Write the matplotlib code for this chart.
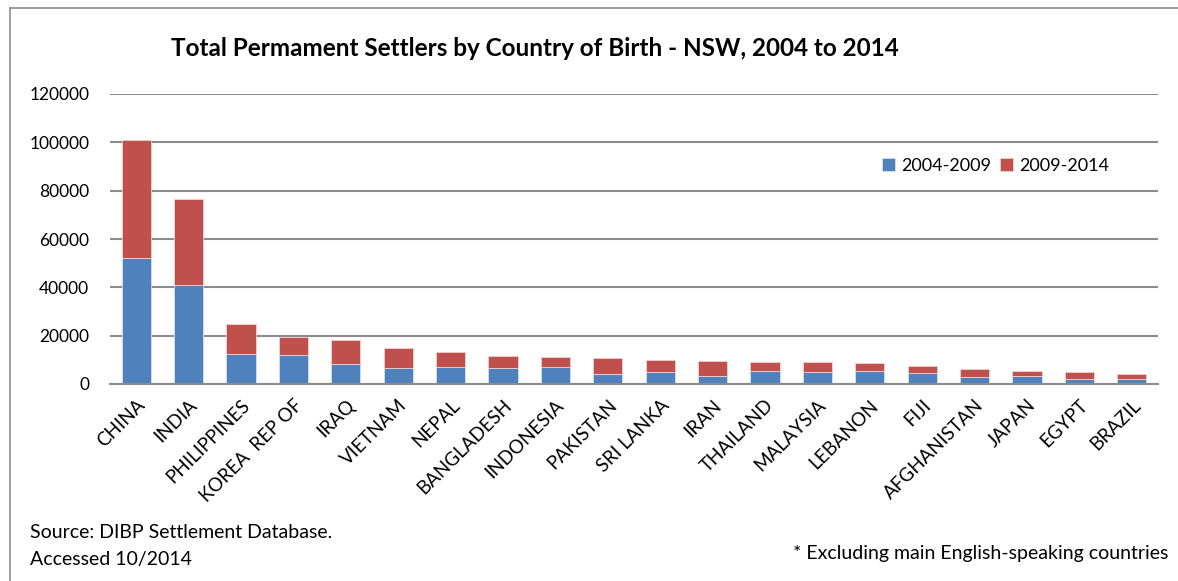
import matplotlib as mpl
mpl.use('Agg')
import matplotlib.pyplot as plt
import numpy as np
from matplotlib.lines import Line2D

plt.rcParams['font.family'] = ['Lato', 'DejaVu Sans']

countries = ['CHINA', 'INDIA', 'PHILIPPINES', 'KOREA  REP OF', 'IRAQ', 'VIETNAM',
             'NEPAL', 'BANGLADESH', 'INDONESIA', 'PAKISTAN', 'SRI LANKA', 'IRAN',
             'THAILAND', 'MALAYSIA', 'LEBANON', 'FIJI', 'AFGHANISTAN', 'JAPAN',
             'EGYPT', 'BRAZIL']
# 2004-2009
first = [52000, 41000, 12400, 12000, 8400, 6600, 6900, 6500, 6900, 4200,
         5100, 3300, 5200, 4800, 5200, 4700, 2800, 3200, 2200, 2200]
# 2009-2014
second = [48800, 35700, 12300, 7600, 9800, 8400, 6300, 5200, 4100, 6400,
          4700, 6400, 4100, 4200, 3500, 2900, 3400, 2000, 2600, 1900]

yticks = [0, 20000, 40000, 60000, 80000, 100000, 120000]

blue = '#4F81BD'
red = '#C0504D'

fig = plt.figure(figsize=(11.78, 5.81), dpi=100)
ax = fig.add_axes([110/1178, 1-384/581, 1048/1178, 290/581])

x = np.arange(len(countries))
ax.bar(x, first, width=0.56, color=blue, edgecolor='#D6E0EE', linewidth=0.6,
       label='2004-2009', zorder=3)
ax.bar(x, second, width=0.56, bottom=first, color=red, edgecolor='#F0D0CF',
       linewidth=0.6, label='2009-2014', zorder=3)

ax.set_xlim(-0.5, len(countries) - 0.5)
ax.set_ylim(0, 120000)
ax.set_yticks(yticks)
ax.set_yticklabels([str(v) for v in yticks], fontsize=12.5)
ax.yaxis.grid(True, color='#8C8C8C', linewidth=1.5, zorder=0)
ax.set_xticks(x)
ax.set_xticklabels(countries, rotation=45, ha='right', rotation_mode='anchor',
                   fontsize=13.5)
ax.tick_params(axis='both', length=0)
ax.tick_params(axis='y', pad=15)
ax.tick_params(axis='x', pad=9)
for s in ['top', 'right', 'left']:
    ax.spines[s].set_visible(False)
ax.spines['bottom'].set_color('#8C8C8C')
ax.spines['bottom'].set_linewidth(1.5)
ax.spines['bottom'].set_zorder(4)

ax.legend(loc='center left', bbox_to_anchor=((882-110)/1048, (384-166)/290), frameon=False,
          ncol=2, fontsize=13, handlelength=0.7, handleheight=0.7,
          handletextpad=0.35, columnspacing=0.5, borderaxespad=0, borderpad=0)

fig.text(535/1178, 1-48/581, 'Total Permament Settlers by Country of Birth - NSW, 2004 to 2014',
         ha='center', va='center', fontsize=17.5, fontweight='bold')
fig.text(30/1178, 1-533/581, 'Source: DIBP Settlement Database.', ha='left',
         va='center', fontsize=14)
fig.text(30/1178, 1-560/581, 'Accessed 10/2014', ha='left', va='center', fontsize=14)
fig.text(1168/1178, 1-553/581, '* Excluding main English-speaking countries',
         ha='right', va='center', fontsize=14)

# chart frame
fig.add_artist(Line2D([10/1178, 10/1178], [0, 1-8/581], transform=fig.transFigure,
                      color='#8C8C8C', linewidth=1.2))
fig.add_artist(Line2D([10/1178, 1], [1-8/581, 1-8/581], transform=fig.transFigure,
                      color='#8C8C8C', linewidth=1.2))

plt.savefig('out.png')
plt.close()
